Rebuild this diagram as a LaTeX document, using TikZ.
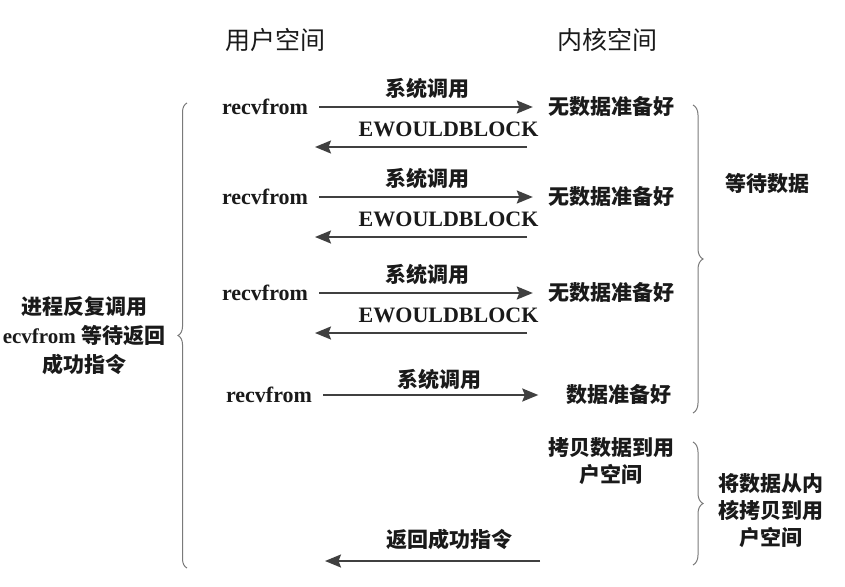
\documentclass[tikz,border=0pt]{standalone}
\usepackage{fontspec}
\setmainfont{Liberation Serif}
\newfontfamily\cjk{Noto Sans CJK SC}
\usetikzlibrary{positioning, arrows.meta, decorations.pathreplacing}
\definecolor{txt}{HTML}{1A1A1A}
\definecolor{arr}{HTML}{404040}
\definecolor{brc}{HTML}{7A7A7A}
\tikzset{every node/.style={text=txt, inner sep=0pt}, % tight boxes round all texts
user/.style={font=\bfseries\fontsize{22}{26}\selectfont}, % recvfrom and EWOULDBLOCK
kernel/.style={font=\cjk\bfseries\fontsize{21}{27}\selectfont}, % chinese labels
mixed/.style={font=\bfseries\fontsize{21}{29}\selectfont}, % latin and chinese in one label
head/.style={font=\cjk\fontsize{25}{30}\selectfont}, % the two column heads
call/.style={draw=arr, line width=2pt, -{Stealth[length=16pt, width=13pt, inset=2.5pt]}}, % call and return arrows
curly/.style={draw=brc, line width=1pt, decorate, decoration={brace, amplitude=10pt}}, % the braces
}
\begin{document}
\begin{tikzpicture}[x=1pt, y=-1pt]
\useasboundingbox (0,0) rectangle (845,586);

\node[head] (hu) at (275,40) {用户空间};
\node[head] (hk) at (607,40) {内核空间};

\node[user] (u1) at (265,107) {recvfrom};
\node[user] (u2) at (265,197) {recvfrom};
\node[user] (u3) at (265,293) {recvfrom};
\node[user] (u4) at (269,395) {recvfrom};

\node[kernel] (k1) at (611,107) {无数据准备好};
\node[kernel] (k2) at (611,197) {无数据准备好};
\node[kernel] (k3) at (611,293) {无数据准备好};
\node[kernel] (k4) at (619,395) {数据准备好};
\node[kernel, align=center] (kc) at (611,461) {拷贝数据到用\\户空间};

\coordinate (e1a) at (527,147); \coordinate (e1b) at (315,147);
\coordinate (e2a) at (527,237); \coordinate (e2b) at (315,237);
\coordinate (e3a) at (527,333); \coordinate (e3b) at (315,333);
\coordinate (ra) at (540,561); \coordinate (rb) at (325,561);

\node[mixed, align=center] (proc) at (84,336) {{\cjk 进程反复调用}\\ecvfrom {\cjk 等待返回}\\{\cjk 成功指令}};
\node[kernel] (wait) at (767,183) {等待数据};
\node[kernel, align=center] (copy) at (771,511) {将数据从内\\核拷贝到用\\户空间};

\path
(u1) edge[call, shorten <=11pt, shorten >=15pt] node[kernel, above=7pt]{系统调用} (k1)
(u2) edge[call, shorten <=11pt, shorten >=15pt] node[kernel, above=7pt]{系统调用} (k2)
(u3) edge[call, shorten <=11pt, shorten >=15pt] node[kernel, above=7pt]{系统调用} (k3)
(u4) edge[call, shorten <=11pt, shorten >=28pt] node[kernel, above=4pt]{系统调用} (k4);

\path
(e1a) edge[call] node[user, above=9pt, pos=0.37]{EWOULDBLOCK} (e1b)
(e2a) edge[call] node[user, above=9pt, pos=0.37]{EWOULDBLOCK} (e2b)
(e3a) edge[call] node[user, above=9pt, pos=0.37]{EWOULDBLOCK} (e3b)
(ra) edge[call] node[kernel, above=10pt, pos=0.42]{返回成功指令} (rb);

\draw[curly, decoration={amplitude=9pt}] (187,568) -- (187,103);
\draw[curly] (693,105) -- (693,413);
\draw[curly] (693,442) -- (693,565);

\end{tikzpicture}
\end{document}
